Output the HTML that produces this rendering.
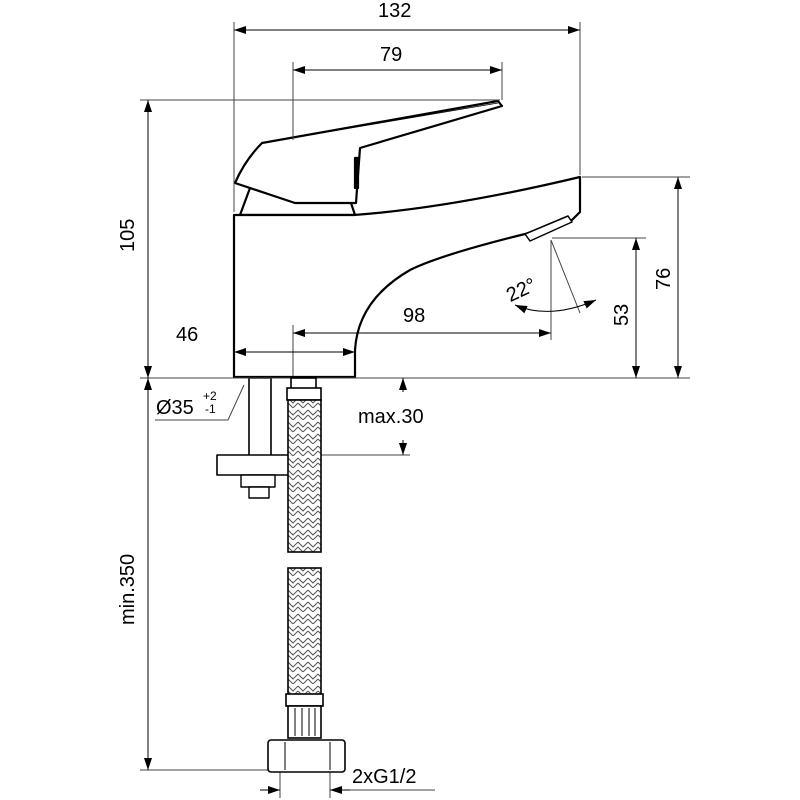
<!DOCTYPE html>
<html><head><meta charset="utf-8"><style>
html,body{margin:0;padding:0;background:#fff;}
svg{display:block;font-family:"Liberation Sans",sans-serif;}
</style></head><body>
<svg width="800" height="800" viewBox="0 0 800 800" xmlns="http://www.w3.org/2000/svg">
<defs>
<marker id="a" viewBox="0 0 12 8" refX="12" refY="4" markerWidth="12" markerHeight="8" markerUnits="userSpaceOnUse" orient="auto-start-reverse"><path d="M0,0L12,4L0,8z" fill="#000"/></marker>
<pattern id="br" width="10" height="12" patternUnits="userSpaceOnUse" x="288">
<rect width="10" height="12" fill="#fff"/>
<path d="M0,2 L5,7 L10,2 M0,7 L5,12 L10,7" stroke="#555" stroke-width="1" fill="none"/>
</pattern>
</defs>
<g stroke="#000" stroke-width="2.2" fill="#fff" stroke-linejoin="round">
<path d="M240,215 L250,188 L350,200 L355,215 Z"/>
<path d="M234,215 L354,215 Q450,208 580,177 L580,212 L572,220 L525,234 Q440,255 410,270 Q358,300 355,350 L355,377 L234,377 Z"/>
<path d="M235,183 Q245,160 262,143 L498,101 L502,106 L360,148 L356,203 L295,203 Z"/>
<path d="M525,234 L568,216 L572,222 L530,241 Z" stroke-width="1.5"/>
<rect x="355" y="158" width="3" height="30" fill="#000"/>
<line x1="262" y1="143" x2="498" y2="103" stroke-width="0.8"/>
<rect x="249" y="378" width="22" height="80" stroke-width="1.6"/>
<rect x="217" y="455" width="96" height="20" stroke-width="1.6"/>
<rect x="241" y="475" width="34" height="12" stroke-width="1.4"/>
<rect x="249" y="487" width="20" height="11" stroke-width="1.4"/>
</g>
<g stroke="#444" stroke-width="1" fill="none">
<line x1="234" y1="22" x2="234" y2="212"/>
<line x1="580" y1="22" x2="580" y2="175"/>
<line x1="293" y1="62" x2="293" y2="140"/>
<line x1="502" y1="62" x2="502" y2="100"/>
<line x1="140" y1="100" x2="500" y2="100"/>
<line x1="582" y1="177" x2="690" y2="177"/>
<line x1="552" y1="238" x2="646" y2="238"/>
<line x1="140" y1="378" x2="690" y2="378"/>
<line x1="293" y1="325" x2="293" y2="376"/>
<line x1="551" y1="240" x2="551" y2="340"/>
<line x1="551" y1="240" x2="580" y2="313"/>
<line x1="140" y1="770" x2="270" y2="770"/>
<line x1="320" y1="455" x2="410" y2="455"/>
<line x1="280" y1="772" x2="280" y2="798"/>
<line x1="330" y1="772" x2="330" y2="798"/>
<line x1="330" y1="790" x2="435" y2="790"/>
<polyline points="155,420 228,420 244,385"/>
</g>
<g stroke="#000" stroke-width="1" fill="none" marker-start="url(#a)" marker-end="url(#a)">
<line x1="234" y1="30" x2="580" y2="30"/>
<line x1="293" y1="70" x2="502" y2="70"/>
<line x1="148" y1="100" x2="148" y2="378"/>
<line x1="678" y1="177" x2="678" y2="378"/>
<line x1="636" y1="238" x2="636" y2="378"/>
<line x1="293" y1="333" x2="551" y2="333"/>
<line x1="234" y1="352" x2="355" y2="352"/>
<line x1="148" y1="378" x2="148" y2="770"/>
<path d="M515,305 Q550,320 596,300"/>
</g>
<g stroke="#000" stroke-width="1" fill="none">
<line x1="403" y1="392" x2="403" y2="378" marker-end="url(#a)"/>
<line x1="403" y1="440" x2="403" y2="455" marker-end="url(#a)"/>
<line x1="260" y1="790" x2="280" y2="790" marker-end="url(#a)"/>
<line x1="350" y1="790" x2="330" y2="790" marker-end="url(#a)"/>
</g>
<g stroke="#000" stroke-width="1.6">
<rect x="291" y="378" width="25" height="12" fill="#fff"/>
<rect x="287" y="388" width="34" height="12" fill="#fff"/>
<rect x="288" y="400" width="33" height="152" fill="url(#br)"/>
<rect x="288" y="568" width="33" height="127" fill="url(#br)"/>
<rect x="286" y="694" width="37" height="12" fill="#fff"/>
<rect x="288" y="706" width="33" height="32" fill="#fff"/>
<path d="M295,708 V736 M302,708 V736 M309,708 V736 M315,708 V736" stroke-width="1"/>
<rect x="268" y="740" width="77" height="32" rx="3" fill="#fff"/>
<path d="M285,742 V770 M330,742 V770" stroke-width="1"/>
</g>
<g font-size="20" fill="#000">
<text x="378" y="17">132</text>
<text x="380" y="61">79</text>
<text x="403" y="322">98</text>
<text x="176" y="341">46</text>
<text x="506" y="297" transform="rotate(-25 520 290)">22°</text>
<text x="358" y="423">max.30</text>
<text x="352" y="783">2xG1/2</text>
<text x="156" y="414">Ø35</text>
<text x="203" y="400" font-size="12">+2</text>
<text x="205" y="413" font-size="12">-1</text>
<text transform="translate(134,252) rotate(-90)">105</text>
<text transform="translate(670,290) rotate(-90)">76</text>
<text transform="translate(628,326) rotate(-90)">53</text>
<text transform="translate(134,625) rotate(-90)">min.350</text>
</g>
</svg>
</body></html>
